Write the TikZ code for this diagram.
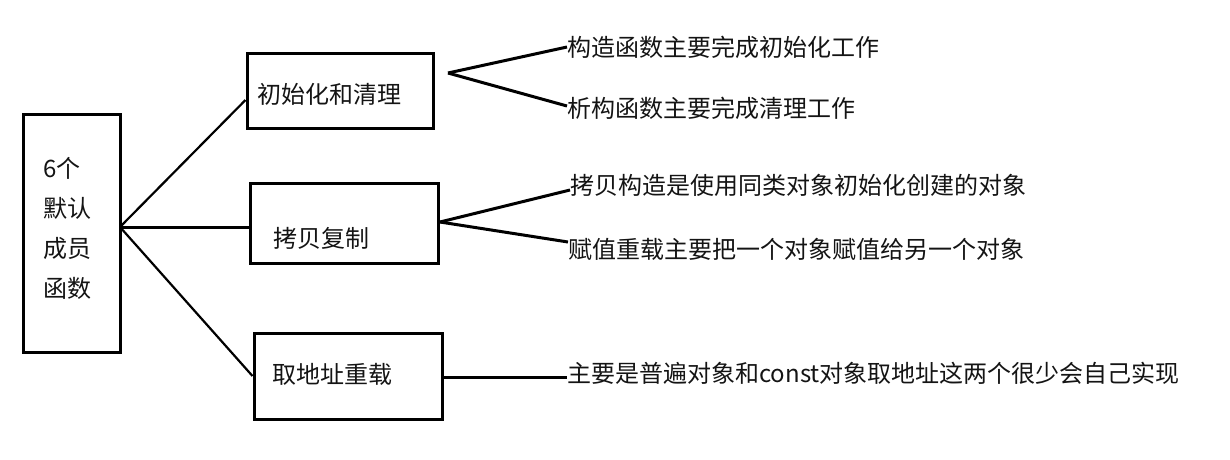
\documentclass[tikz,border=0pt]{standalone}
\usepackage{fontspec}
\setmainfont{Noto Sans CJK SC}
\begin{document}
\begin{tikzpicture}[x=1pt,y=-1pt,
  box/.style={draw=black,line width=3pt,rectangle,inner sep=0pt},
  txt/.style={anchor=west,inner sep=0pt,font=\fontsize{24}{28}\selectfont,text=black!92},
  thick line/.style={line width=3pt},
  thin line/.style={line width=2.2pt},
  pt/.style={inner sep=0pt,minimum size=0pt}]
\useasboundingbox (0,0) rectangle (1230,459);
% boxes
\node[box,minimum width=97pt,minimum height=238pt] (b0) at (71.5,233) {};
\node[box,minimum width=186pt,minimum height=75pt] (b1) at (340,90.5) {};
\node[box,minimum width=188pt,minimum height=80pt] (b2) at (344,223) {};
\node[box,minimum width=188pt,minimum height=86pt] (b3) at (348,376) {};
% box texts
\node[txt] (l1) at (43,168) {6个};
\node[txt] (l2) at (43,208) {默认};
\node[txt] (l3) at (43,248) {成员};
\node[txt] (l4) at (43,288) {函数};
\node[txt] (t1) at (257,94) {初始化和清理};
\node[txt] (t2) at (273,238) {拷贝复制};
\node[txt] (t3) at (272,374) {取地址重载};
% right texts
\node[txt] (r1) at (567,47) {构造函数主要完成初始化工作};
\node[txt] (r2) at (567,108) {析构函数主要完成清理工作};
\node[txt] (r3) at (570,185) {拷贝构造是使用同类对象初始化创建的对象};
\node[txt] (r4) at (568,249) {赋值重载主要把一个对象赋值给另一个对象};
\node[txt] (r5) at (567,373) {主要是普遍对象和const对象取地址这两个很少会自己实现};
% junction points
\coordinate (v0) at (120,227);
\coordinate (v1) at (448,73);
\coordinate (v2) at (440,222);
% left fan
\draw[thin line] (v0) -- (b1.west |- 0,100);
\draw[thick line] (v0) -- (b2.west |- v0);
\draw[thin line] (v0) -- (b3.west |- 0,376);
% right fans
\draw[thick line] (v1) -- ([yshift=0pt]r1.west);
\draw[thick line] (v1) -- ([yshift=2pt]r2.west);
\draw[thick line] (v2) -- ([yshift=-5pt]r3.west);
\draw[thick line] (v2) -- ([yshift=7pt]r4.west);
\draw[thick line] (b3.east |- 0,377) -- (r5.west |- 0,377);
\end{tikzpicture}
\end{document}
